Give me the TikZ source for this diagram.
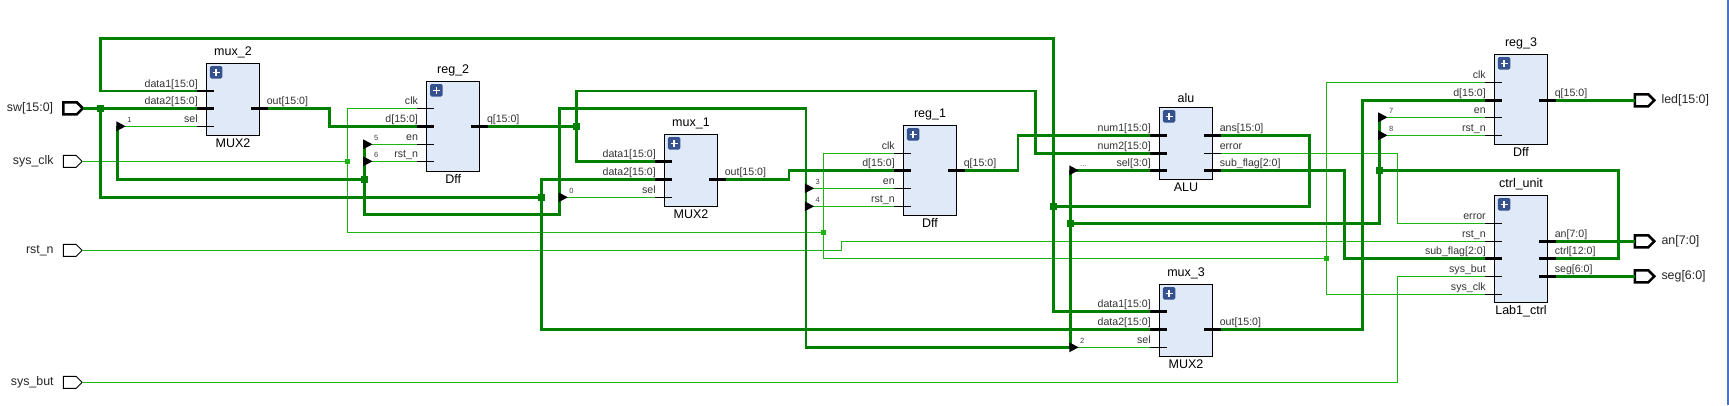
\documentclass[tikz,border=0pt]{standalone}
\usepackage{fontspec}
\setmainfont{Liberation Sans}
\usepackage{tikz}
\usetikzlibrary{positioning,shapes.geometric,shapes.symbols}

\definecolor{busgreen}{HTML}{008000}
\definecolor{netgreen}{HTML}{1DB40F}
\definecolor{blockblue}{HTML}{DFE9F7}
\definecolor{iconblue}{HTML}{35528F}
\definecolor{edgeblue}{HTML}{4A72C0}

\tikzset{
  block/.style = {draw, fill = blockblue, line width = 0.9pt, minimum width = 53.3pt, inner sep = 0pt},
  blockname/.style = {font = \fontsize{12.5}{14}\selectfont, inner sep = 0pt},
  pinname/.style = {font = \fontsize{10.6}{12}\selectfont, text = black!80, inner sep = 0pt},
  idxname/.style = {font = \fontsize{7.5}{8}\selectfont, text = black!75, inner sep = 0pt},
  portname/.style = {font = \fontsize{12.4}{14}\selectfont, text = black!85, inner sep = 0pt},
  bus/.style = {draw = busgreen, line width = 2.6pt},
  net/.style = {draw = netgreen, line width = 1pt},
  pinbus/.style = {draw = black, line width = 2.6pt},
  pinnet/.style = {draw = black, line width = 0.9pt},
  busdot/.style = {fill = busgreen, minimum size = 7pt, inner sep = 0pt},
  netdot/.style = {fill = netgreen, minimum size = 5pt, inner sep = 0pt},
  tiepin/.style = {isosceles triangle, isosceles triangle apex angle = 56, fill = black, minimum height = 9.3pt, inner sep = 0pt, outer sep = 0pt},
  portnet/.style = {signal, signal to = east, signal from = nowhere, draw, fill = white, line width = 0.9pt, minimum width = 18.8pt, minimum height = 12pt, inner sep = 0pt, outer sep = 0pt, anchor = west},
  portbus/.style = {portnet, line width = 2.6pt, minimum width = 19.5pt},
  plusicon/.style = {fill = iconblue, rounded corners = 1.5pt, minimum size = 12.5pt, inner sep = 0pt,
    path picture = {\draw[white, line width = 1.6pt] ([xshift = -3.6pt]path picture bounding box.center) -- ([xshift = 3.6pt]path picture bounding box.center);
      \draw[white, line width = 1.6pt] ([yshift = -3.6pt]path picture bounding box.center) -- ([yshift = 3.6pt]path picture bounding box.center);}}
}

% block name, type and icon
\newcommand{\blocktext}[3]{
  \node[blockname, above = 4.5pt of #1] (#1name) {#2};
  \node[blockname, below = 2.5pt of #1] (#1type) {#3};
  \node[plusicon, below right = 3pt and 3.8pt of #1.north west] (#1plus) {};
}
% left pin: block, pin, y, style, label
\newcommand{\pinL}[5]{
  \coordinate (#1#2) at ([xshift = -9pt]#1.west |- 0,#3);
  \draw[#4] (#1#2) -- ++(17.3,0);
  \node[pinname, anchor = base east, yshift = 3.6pt, xshift = 1pt] (#1#2text) at (#1#2) {#5};
}
% right pin: block, pin, y, style, label
\newcommand{\pinR}[5]{
  \coordinate (#1#2) at ([xshift = 7.5pt]#1.east |- 0,#3);
  \draw[#4] (#1#2) -- ++(-16.8,0);
  \node[pinname, anchor = base west, yshift = 3.6pt, xshift = -1pt] (#1#2text) at (#1#2) {#5};
}
% tie-off triangle on a named coordinate
\newcommand{\tieoff}[2]{
  \node[tiepin, anchor = lower side, xshift = -1.2pt] (#1tri) at (#1) {};
  \node[idxname, anchor = base west, xshift = 9.5pt, yshift = 3.6pt] (#1idx) at (#1) {#2};
}

\begin{document}
\begin{tikzpicture}[x = 1pt, y = -1pt]
\useasboundingbox (0,0) rectangle (1729,405);
\fill[white] (0,0) rectangle (1729,405);
\fill[edgeblue] (1727,0) rectangle (1729,405);

% blocks
\node[block, minimum height = 72.4pt] (mux2) at (233,99.5) {};
\node[block, minimum height = 90.4pt] (reg2) at (453.2,126.5) {};
\node[block, minimum height = 72pt] (mux1) at (691,170.3) {};
\node[block, minimum height = 90.4pt] (reg1) at (930,170.5) {};
\node[block, minimum height = 72pt] (alu) at (1186,143.3) {};
\node[block, minimum height = 72pt] (mux3) at (1186,320.3) {};
\node[block, minimum height = 90.4pt] (reg3) at (1521,99.5) {};
\node[block, minimum height = 107pt] (ctrl) at (1521,248.8) {};
\blocktext{mux2}{mux\_2}{MUX2}
\blocktext{reg2}{reg\_2}{Dff}
\blocktext{mux1}{mux\_1}{MUX2}
\blocktext{reg1}{reg\_1}{Dff}
\blocktext{alu}{alu}{ALU}
\blocktext{mux3}{mux\_3}{MUX2}
\blocktext{reg3}{reg\_3}{Dff}
\blocktext{ctrl}{ctrl\_unit}{Lab1\_ctrl}

% pins
\pinL{mux2}{da}{91}{pinbus}{data1[15:0]}
\pinL{mux2}{db}{108.3}{pinbus}{data2[15:0]}
\pinL{mux2}{sel}{126.3}{pinnet}{sel}
\pinR{mux2}{out}{108.3}{pinbus}{out[15:0]}
\pinL{reg2}{clk}{108.3}{pinnet}{clk}
\pinL{reg2}{d}{126.3}{pinbus}{d[15:0]}
\pinL{reg2}{en}{144.3}{pinnet}{en}
\pinL{reg2}{rst}{161.3}{pinnet}{rst\_n}
\pinR{reg2}{q}{126.3}{pinbus}{q[15:0]}
\pinL{mux1}{da}{161.3}{pinbus}{data1[15:0]}
\pinL{mux1}{db}{179.3}{pinbus}{data2[15:0]}
\pinL{mux1}{sel}{197.3}{pinnet}{sel}
\pinR{mux1}{out}{179.3}{pinbus}{out[15:0]}
\pinL{reg1}{clk}{153.3}{pinnet}{clk}
\pinL{reg1}{d}{170.3}{pinbus}{d[15:0]}
\pinL{reg1}{en}{188.3}{pinnet}{en}
\pinL{reg1}{rst}{206.3}{pinnet}{rst\_n}
\pinR{reg1}{q}{170.3}{pinbus}{q[15:0]}
\pinL{alu}{na}{135.3}{pinbus}{num1[15:0]}
\pinL{alu}{nb}{153.3}{pinbus}{num2[15:0]}
\pinL{alu}{sel}{170.3}{pinbus}{sel[3:0]}
\pinR{alu}{ans}{135.3}{pinbus}{ans[15:0]}
\pinR{alu}{err}{153.3}{pinnet}{error}
\pinR{alu}{flag}{170.3}{pinbus}{sub\_flag[2:0]}
\pinL{mux3}{da}{311.3}{pinbus}{data1[15:0]}
\pinL{mux3}{db}{329.3}{pinbus}{data2[15:0]}
\pinL{mux3}{sel}{347.3}{pinnet}{sel}
\pinR{mux3}{out}{329.3}{pinbus}{out[15:0]}
\pinL{reg3}{clk}{82.3}{pinnet}{clk}
\pinL{reg3}{d}{100.3}{pinbus}{d[15:0]}
\pinL{reg3}{en}{117.3}{pinnet}{en}
\pinL{reg3}{rst}{135.3}{pinnet}{rst\_n}
\pinR{reg3}{q}{100.3}{pinbus}{q[15:0]}
\pinL{ctrl}{err}{223.3}{pinnet}{error}
\pinL{ctrl}{rst}{241.3}{pinnet}{rst\_n}
\pinL{ctrl}{flag}{258.3}{pinbus}{sub\_flag[2:0]}
\pinL{ctrl}{but}{276.3}{pinnet}{sys\_but}
\pinL{ctrl}{clk}{294.3}{pinnet}{sys\_clk}
\pinR{ctrl}{an}{241.3}{pinbus}{an[7:0]}
\pinR{ctrl}{cout}{258.3}{pinbus}{ctrl[12:0]}
\pinR{ctrl}{seg}{276.3}{pinbus}{seg[6:0]}

% ports
\node[portbus] (sw) at (63.3,108.3) {};
\node[portnet] (sysclk) at (63.3,161.3) {};
\node[portnet] (rstn) at (63.3,250.3) {};
\node[portnet] (sysbut) at (63.3,382.3) {};
\node[portbus] (led) at (1634.8,100.3) {};
\node[portbus] (an) at (1634.8,241.3) {};
\node[portbus] (seg) at (1634.8,276.3) {};
\node[portname, left = 10pt of sw] (swname) {sw[15:0]};
\node[portname, left = 9.5pt of sysclk] (sysclkname) {sys\_clk};
\node[portname, left = 9.5pt of rstn] (rstnname) {rst\_n};
\node[portname, left = 9.5pt of sysbut] (sysbutname) {sys\_but};
\node[portname, right = 7pt of led] (ledname) {led[15:0]};
\node[portname, right = 7pt of an] (anname) {an[7:0]};
\node[portname, right = 7pt of seg] (segname) {seg[6:0]};

% junctions and corners
\coordinate (t1) at (117.6,126.3);
\coordinate (t5) at (364.4,144.3);
\coordinate (t6) at (364.4,161.3);
\coordinate (t0) at (559.7,197.3);
\coordinate (t3) at (806,188.3);
\coordinate (t4) at (806,206.3);
\coordinate (tdots) at (1070.5,170.3);
\coordinate (t2) at (1070.5,347.3);
\coordinate (t7) at (1379.4,117.3);
\coordinate (t8) at (1379.4,135.3);
\coordinate (topleft) at (100.2,38.3);
\coordinate (mux2turn) at (329.2,108.3);
\coordinate (mux1turn) at (789,179.3);
\coordinate (reg1turn) at (1018,170.3);
\coordinate (loopturn) at (1035.3,91);
\coordinate (ansturn) at (1309.5,206.3);
\coordinate (flagturn) at (1344.3,170.3);
\coordinate (mux3turn) at (1362.4,329.3);
\coordinate (ctrlturn) at (1618.4,170.3);
\coordinate (sellow) at (364.4,214.3);
\coordinate (selmid) at (559.7,214.3);
\coordinate (seltop) at (806,108.3);
\coordinate (rstturn) at (841.5,250.3);
\coordinate (errturn) at (1397.2,153.3);
\coordinate (butturn) at (1397.2,382.3);
\node[busdot] (jsw) at (100.2,108.3) {};
\node[busdot] (jsel) at (364.4,179.3) {};
\node[busdot] (jdata) at (541.2,197.3) {};
\node[busdot] (jq) at (576.3,126.3) {};
\node[busdot] (jans) at (1053.5,206.3) {};
\node[busdot] (jtie) at (1070.5,223.3) {};
\node[busdot] (jctrl) at (1379.4,170.3) {};
\node[netdot] (jclk) at (347.3,161.3) {};
\node[netdot] (jclkb) at (823.4,232.3) {};
\node[netdot] (jclkc) at (1326.6,258.3) {};

% thin nets
\draw[net] (sysclk.east) -- (jclk);
\draw[net] (jclk) |- (reg2clk);
\draw[net] (jclk) |- (jclkb);
\draw[net] (jclkb) |- (reg1clk);
\draw[net] (jclkb) |- (jclkc);
\draw[net] (jclkc) |- (reg3clk);
\draw[net] (jclkc) |- (ctrlclk);
\draw[net] (rstn.east) -- (rstturn) |- (ctrlrst);
\draw[net] (sysbut.east) -- (butturn) |- (ctrlbut);
\draw[net] (aluerr) -- (errturn) |- (ctrlerr);
\draw[net] (t1) -- (mux2sel);
\draw[net] (t5) -- (reg2en);
\draw[net] (t6) -- (reg2rst);
\draw[net] (t0) -- (mux1sel);
\draw[net] (t3) -- (reg1en);
\draw[net] (t4) -- (reg1rst);
\draw[net] (t2) -- (mux3sel);
\draw[net] (t7) -- (reg3en);
\draw[net] (t8) -- (reg3rst);

% buses
\draw[bus] (sw.east) -- (mux2db);
\draw[bus] (jsw) |- (jdata);
\draw[bus] (jdata) |- (mux1db);
\draw[bus] (jdata) |- (mux3db);
\draw[bus] (mux2da) -| (topleft) -| (jans);
\draw[bus] (jans) |- (mux3da);
\draw[bus] (aluans) -| (ansturn) -- (jans);
\draw[bus] (mux2out) -- (mux2turn) |- (reg2d);
\draw[bus] (reg2q) -- (jq);
\draw[bus] (jq) |- (mux1da);
\draw[bus] (jq) |- (loopturn) |- (alunb);
\draw[bus] (mux1out) -- (mux1turn) |- (reg1d);
\draw[bus] (reg1q) -- (reg1turn) |- (aluna);
\draw[bus] (t1) |- (jsel);
\draw[bus] (t5) -- (sellow) -- (selmid) |- (seltop) -- (t3) -- (t4) |- (t2);
\draw[bus] (tdots) -- (alusel);
\draw[bus] (tdots) -- (t2);
\draw[bus] (jtie) -| (jctrl);
\draw[bus] (t7) -- (jctrl) -- (ctrlturn) |- (ctrlcout);
\draw[bus] (aluflag) -- (flagturn) |- (ctrlflag);
\draw[bus] (mux3out) -- (mux3turn) |- (reg3d);
\draw[bus] (reg3q) -- (led.west);
\draw[bus] (ctrlan) -- (an.west);
\draw[bus] (ctrlseg) -- (seg.west);

% tie-offs
\tieoff{t1}{1}
\tieoff{t5}{5}
\tieoff{t6}{6}
\tieoff{t0}{0}
\tieoff{t3}{3}
\tieoff{t4}{4}
\tieoff{tdots}{...}
\tieoff{t2}{2}
\tieoff{t7}{7}
\tieoff{t8}{8}
\end{tikzpicture}
\end{document}
